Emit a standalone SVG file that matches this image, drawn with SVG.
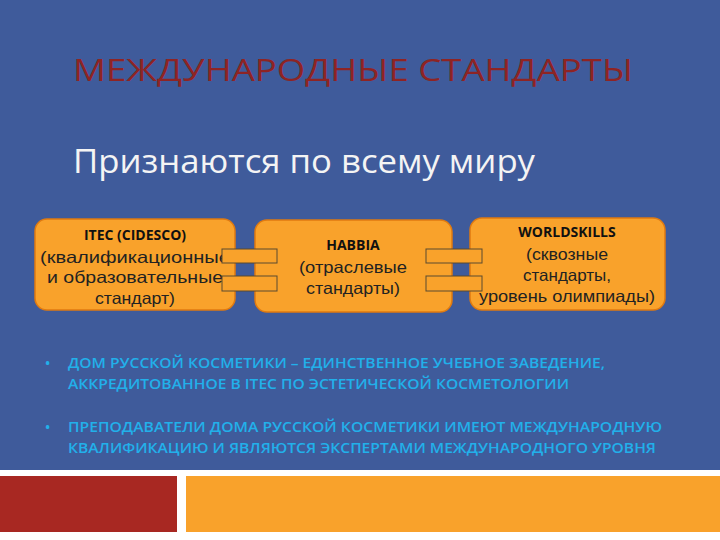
<svg xmlns="http://www.w3.org/2000/svg" width="720" height="540" viewBox="0 0 720 540">
<style>
.box{fill:#f9a22b;stroke:#e07a10;stroke-width:1.5}
.con{fill:#f9a22b;stroke:#5a4a30;stroke-width:1}
.h{font-family:"Open Sans",sans-serif;font-weight:bold;font-size:14px;fill:#111;text-anchor:middle}
.b{font-family:"Liberation Sans",Arial,sans-serif;font-size:16.5px;fill:#222;text-anchor:middle}
.bul{font-family:"Open Sans",sans-serif;font-weight:600;font-size:14px;fill:#22b0ea}
</style>
<rect width="720" height="540" fill="#3f5b9b"/>
<text x="73" y="81" font-family="Open Sans,sans-serif" font-size="31" fill="#8e2424" textLength="560" lengthAdjust="spacingAndGlyphs">МЕЖДУНАРОДНЫЕ СТАНДАРТЫ</text>
<text x="73" y="173" font-family="Open Sans,sans-serif" font-size="33" fill="#f4f4f4" textLength="462" lengthAdjust="spacingAndGlyphs">Признаются по всему миру</text>
<g id="itec"><rect class="box" x="35" y="219" width="200" height="91" rx="12"/>
<text class="h" x="135" y="240">ITEC (CIDESCO)</text>
<text class="b" x="135" y="263" textLength="190" lengthAdjust="spacingAndGlyphs">(квалификационные</text>
<text class="b" x="135" y="283" textLength="176" lengthAdjust="spacingAndGlyphs">и образовательные</text>
<text class="b" x="135" y="304" textLength="80" lengthAdjust="spacingAndGlyphs">стандарт)</text></g>
<g id="habbia"><rect class="box" x="255" y="220" width="197" height="92" rx="12"/>
<text class="h" x="353" y="250">HABBIA</text>
<text class="b" x="353" y="273" textLength="108" lengthAdjust="spacingAndGlyphs">(отраслевые</text>
<text class="b" x="353" y="294" textLength="94" lengthAdjust="spacingAndGlyphs">стандарты)</text></g>
<g id="worldskills"><rect class="box" x="470" y="218" width="195" height="92" rx="12"/>
<text class="h" x="567" y="237">WORLDSKILLS</text>
<text class="b" x="567" y="260" textLength="82" lengthAdjust="spacingAndGlyphs">(сквозные</text>
<text class="b" x="567" y="281" textLength="88" lengthAdjust="spacingAndGlyphs">стандарты,</text>
<text class="b" x="567" y="302" textLength="176" lengthAdjust="spacingAndGlyphs">уровень олимпиады)</text></g>
<g id="connectors">
<rect class="con" x="222" y="249" width="55" height="14"/>
<rect class="con" x="222" y="276" width="55" height="15"/>
<rect class="con" x="426" y="249" width="56" height="14"/>
<rect class="con" x="426" y="276" width="56" height="15"/>
</g>
<g class="bul">
<text x="45" y="368">•</text>
<text x="68" y="368" textLength="537" lengthAdjust="spacingAndGlyphs">ДОМ РУССКОЙ КОСМЕТИКИ – ЕДИНСТВЕННОЕ УЧЕБНОЕ ЗАВЕДЕНИЕ,</text>
<text x="68" y="389" textLength="501" lengthAdjust="spacingAndGlyphs">АККРЕДИТОВАННОЕ В ITEC  ПО ЭСТЕТИЧЕСКОЙ КОСМЕТОЛОГИИ</text>
<text x="45" y="432">•</text>
<text x="68" y="432" textLength="594" lengthAdjust="spacingAndGlyphs">ПРЕПОДАВАТЕЛИ ДОМА РУССКОЙ КОСМЕТИКИ ИМЕЮТ МЕЖДУНАРОДНУЮ</text>
<text x="68" y="453" textLength="588" lengthAdjust="spacingAndGlyphs">КВАЛИФИКАЦИЮ И ЯВЛЯЮТСЯ ЭКСПЕРТАМИ МЕЖДУНАРОДНОГО УРОВНЯ</text>
</g>
<rect x="0" y="470" width="720" height="70" fill="#ffffff"/>
<rect x="0" y="476" width="177" height="56" fill="#a82822"/>
<rect x="186" y="476" width="534" height="56" fill="#f9a22b"/>
</svg>
